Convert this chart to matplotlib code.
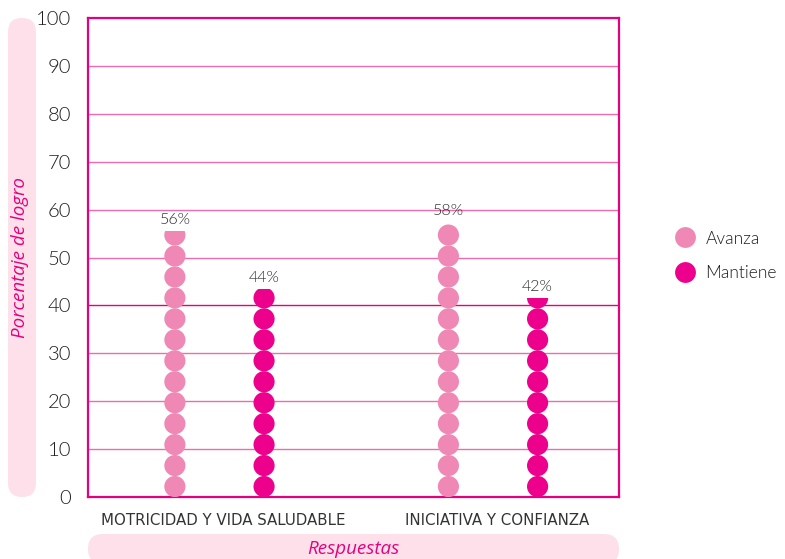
import numpy as np
import matplotlib
matplotlib.use("Agg")
import matplotlib.pyplot as plt
from matplotlib.patches import Rectangle, FancyBboxPatch
from matplotlib.lines import Line2D

# datos
categorias = ["MOTRICIDAD Y VIDA SALUDABLE", "INICIATIVA Y CONFIANZA"]
series = ["Avanza", "Mantiene"]
avanza = [56, 58]
mantiene = [44, 42]
colores = ["#f088b6", "#ec008c"]
yticks = [0, 10, 20, 30, 40, 50, 60, 70, 80, 90, 100]

MAGENTA = "#e6007e"
GRID = "#f26aab"
PILL = "#fde0ea"
TXT = "#1e1e1e"
UNIDAD = 4.375   # valor que representa cada punto
PESO = 300

plt.rcParams["font.family"] = ["Lato", "DejaVu Sans"]

fig = plt.figure(figsize=(7.85, 5.59), dpi=100)
ax = fig.add_axes([0.1121, 0.1109, 0.6764, 0.8569])
ax.set_xlim(-0.4806, 1.4605)
ax.set_ylim(0, 100)

for v in yticks[1:-1]:
    ax.axhline(v, color=MAGENTA if v == 40 else GRID, lw=1.0, zorder=1)

for s in ax.spines.values():
    s.set_color(MAGENTA)
    s.set_linewidth(1.6)

ax.set_yticks(yticks)
ax.set_yticklabels([str(t) for t in yticks], fontsize=14.5, color=TXT,
                   fontweight=PESO)
ax.tick_params(axis="y", length=0, pad=12)
ax.set_xticks([])

offset = 0.163
desp = [-offset, offset]
for j, valores in enumerate([avanza, mantiene]):
    for i, v in enumerate(valores):
        x = i + desp[j]
        n = int(np.ceil(v / UNIDAD))
        # no dibujar restos muy pequenos de un punto
        if v - (n - 1) * UNIDAD < 0.3 * UNIDAD:
            n -= 1
        ys = (np.arange(n) + 0.5) * UNIDAD
        sc = ax.scatter(np.full(n, x), ys, s=232, color=colores[j],
                        edgecolors="none", zorder=3)
        clip = Rectangle((x - 0.2, 0), 0.4, v - 0.5, transform=ax.transData)
        sc.set_clip_path(clip)
        ax.annotate(f"{v}%", (x, v), xytext=(0, 1), textcoords="offset points",
                    ha="center", va="bottom", fontsize=11.5, color="#2a2a2a",
                    fontweight=PESO, zorder=4)

# etiquetas de categoria
for i, c in enumerate(categorias):
    ax.text(i + 0.015, -0.033, c, transform=ax.get_xaxis_transform(),
            ha="center", va="top", fontsize=10.8, color="#333333",
            family=["DejaVu Sans"])

# pastillas de titulos (en pulgadas)
fig.patches.append(FancyBboxPatch((0.08, 0.62), 0.28, 4.79,
                                  boxstyle="round,pad=0,rounding_size=0.14",
                                  transform=fig.dpi_scale_trans,
                                  facecolor=PILL, edgecolor="none", zorder=0))
fig.patches.append(FancyBboxPatch((0.88, -0.05), 5.31, 0.30,
                                  boxstyle="round,pad=0,rounding_size=0.15",
                                  transform=fig.dpi_scale_trans,
                                  facecolor=PILL, edgecolor="none", zorder=0))
fig.text(0.205, 3.01, "Porcentaje de logro", transform=fig.dpi_scale_trans,
         rotation=90, ha="center", va="center", fontsize=13.5, color=MAGENTA,
         fontstyle="italic", family=["Open Sans", "DejaVu Sans"])
fig.text(3.53, 0.10, "Respuestas", transform=fig.dpi_scale_trans,
         ha="center", va="center", fontsize=13.5, color=MAGENTA,
         fontstyle="italic", family=["Open Sans", "DejaVu Sans"])

handles = [Line2D([], [], marker="o", ls="none", markersize=15,
                  markerfacecolor=colores[k], markeredgecolor="none")
           for k in range(2)]
fig.legend(handles, series, loc="upper left", bbox_to_anchor=(0.851, 0.6),
           frameon=False, labelcolor=TXT, handletextpad=0.55,
           labelspacing=1.05, borderaxespad=0, handlelength=1.2,
           prop={"weight": PESO, "size": 12.5})

fig.savefig("out.png", dpi=100)
